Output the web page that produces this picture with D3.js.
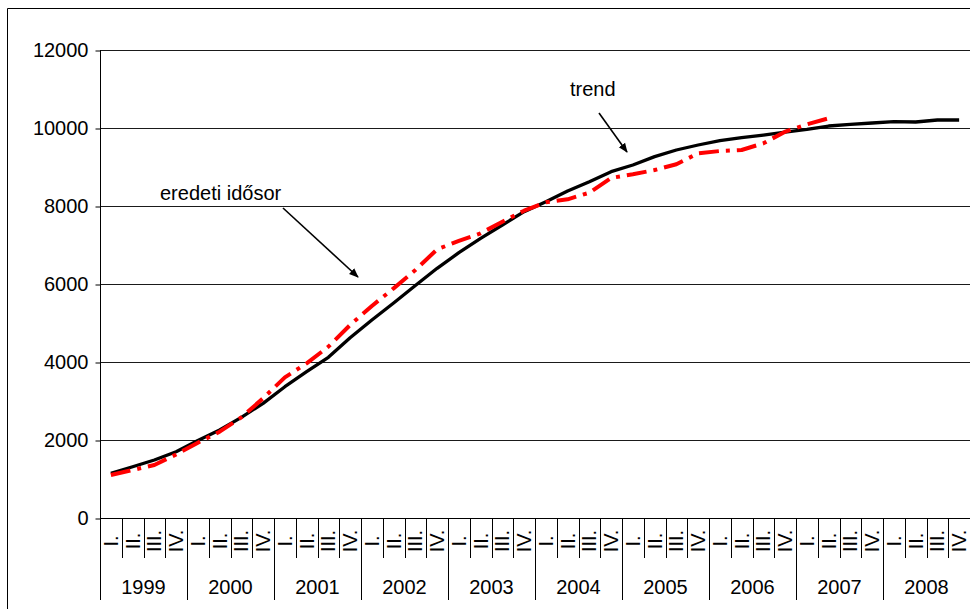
<!DOCTYPE html>
<html>
<head>
<meta charset="utf-8">
<script src="https://cdn.jsdelivr.net/npm/d3@7/dist/d3.min.js"></script>
<style>
  html, body { margin: 0; padding: 0; background: #fff; }
  svg { display: block; font-family: "Liberation Sans", Arial, sans-serif; }
</style>
</head>
<body>
<svg id="chart" width="970" height="609"></svg>
<script>
// Quarterly series 1999–2008: observed values and fitted trend
const years = [1999, 2000, 2001, 2002, 2003, 2004, 2005, 2006, 2007, 2008];
const quarters = ["I.", "II.", "III.", "IV."];
const yTicks = [0, 2000, 4000, 6000, 8000, 10000, 12000];

const trend = [
  1146, 1315, 1487, 1700,
  1990, 2256, 2582, 2940,
  3367, 3752, 4120, 4620,
  5077, 5513, 5960, 6402,
  6803, 7171, 7513, 7854,
  8110, 8384, 8624, 8880,
  9051, 9265, 9436, 9564,
  9675, 9752, 9820, 9897,
  9966, 10051, 10094, 10128,
  10162, 10154, 10205, 10205
];

const original = [
  1103, 1231, 1359, 1630,
  1931, 2213, 2582, 3069,
  3607, 3966, 4393, 4950,
  5436, 5889, 6359, 6889,
  7103, 7300, 7598, 7880,
  8094, 8172, 8342, 8720,
  8812, 8923, 9069, 9351,
  9410, 9436, 9607, 9906,
  10094, 10248
];

const labelTrend = "trend";
const labelOriginal = "eredeti idősor";

// ---- layout ----
const svg = d3.select("#chart");
const plotLeft = 100, plotRight = 970, plotTop = 50, plotBottom = 518;
const qTickEnd = 558, yearTickEnd = 600;

// outer chart frame
svg.append("path")
  .attr("d", "M7.5,609 V8.5 H975")
  .attr("fill", "none").attr("stroke", "#000").attr("stroke-width", 1);

const idx = d3.range(years.length * quarters.length);
const x = d3.scaleBand().domain(idx).range([plotLeft, plotRight]).padding(0);
const y = d3.scaleLinear().domain([0, 12000]).range([plotBottom, plotTop]);
const cx = i => x(i) + x.bandwidth() / 2;

// horizontal gridlines
svg.append("g")
  .selectAll("line").data(yTicks.filter(v => v > 0)).join("line")
  .attr("x1", plotLeft).attr("x2", plotRight)
  .attr("y1", d => Math.round(y(d)) + 0.5).attr("y2", d => Math.round(y(d)) + 0.5)
  .attr("stroke", "#1a1a1a").attr("stroke-width", 1);

// y axis
const yAxis = svg.append("g")
  .attr("transform", `translate(${plotLeft + 0.5},0.5)`)
  .call(d3.axisLeft(y).tickValues(yTicks).tickSize(5).tickPadding(7).tickFormat(d3.format("d")));
yAxis.select(".domain").remove();
yAxis.selectAll(".tick line").attr("stroke", "#000");
yAxis.selectAll(".tick text")
  .attr("font-size", 20).attr("font-family", "Liberation Sans, Arial, sans-serif").attr("fill", "#000");

// y axis line down through the category label rows
svg.append("line")
  .attr("x1", plotLeft + 0.5).attr("x2", plotLeft + 0.5)
  .attr("y1", plotTop).attr("y2", yearTickEnd)
  .attr("stroke", "#000");

// x axis line
svg.append("line")
  .attr("x1", plotLeft).attr("x2", plotRight)
  .attr("y1", plotBottom + 0.5).attr("y2", plotBottom + 0.5)
  .attr("stroke", "#000");

// category separators: short between quarters, long between years
const bounds = idx.slice(1).concat([idx.length]);
svg.append("g")
  .selectAll("line").data(bounds).join("line")
  .attr("x1", d => Math.round(d < idx.length ? x(d) : plotRight) + 0.5)
  .attr("x2", d => Math.round(d < idx.length ? x(d) : plotRight) + 0.5)
  .attr("y1", plotBottom)
  .attr("y2", d => d % 4 === 0 ? yearTickEnd : qTickEnd)
  .attr("stroke", "#000");

// rotated quarter labels
svg.append("g")
  .selectAll("text").data(idx).join("text")
  .attr("transform", d => `translate(${cx(d)},541) rotate(-90)`)
  .attr("text-anchor", "middle")
  .attr("dy", "0.35em")
  .attr("font-size", 20)
  .text(d => quarters[d % 4]);

// year labels
svg.append("g")
  .selectAll("text").data(years).join("text")
  .attr("x", (d, k) => x(k * 4) + 2 * x.bandwidth())
  .attr("y", 587)
  .attr("dy", "0.35em")
  .attr("text-anchor", "middle")
  .attr("font-size", 20)
  .text(d => d);

// series lines
const line = d3.line().x((d, i) => cx(i)).y(d => y(d));

svg.append("path")
  .datum(trend)
  .attr("d", line)
  .attr("fill", "none")
  .attr("stroke", "#000")
  .attr("stroke-width", 3.3)
  .attr("stroke-linejoin", "round");

svg.append("path")
  .datum(original)
  .attr("d", line)
  .attr("fill", "none")
  .attr("stroke", "#ff0000")
  .attr("stroke-width", 4)
  .attr("stroke-dasharray", "20,7,4,7")
  .attr("stroke-linejoin", "round");

// annotations with arrows
const defs = svg.append("defs");
defs.append("marker")
  .attr("id", "arrow")
  .attr("viewBox", "0 0 10 10")
  .attr("refX", 9).attr("refY", 5)
  .attr("markerWidth", 6).attr("markerHeight", 6)
  .attr("markerUnits", "strokeWidth")
  .attr("orient", "auto")
  .append("path").attr("d", "M0,1 L10,5 L0,9 Z").attr("fill", "#000");

svg.append("text").attr("x", 570).attr("y", 96).attr("font-size", 20).text(labelTrend);
svg.append("line")
  .attr("x1", 599).attr("y1", 113).attr("x2", 627).attr("y2", 152)
  .attr("stroke", "#000").attr("stroke-width", 1.6).attr("marker-end", "url(#arrow)");

svg.append("text").attr("x", 160).attr("y", 200).attr("font-size", 20).text(labelOriginal);
svg.append("line")
  .attr("x1", 283).attr("y1", 208).attr("x2", 358).attr("y2", 277)
  .attr("stroke", "#000").attr("stroke-width", 1.6).attr("marker-end", "url(#arrow)");
</script>
</body>
</html>
